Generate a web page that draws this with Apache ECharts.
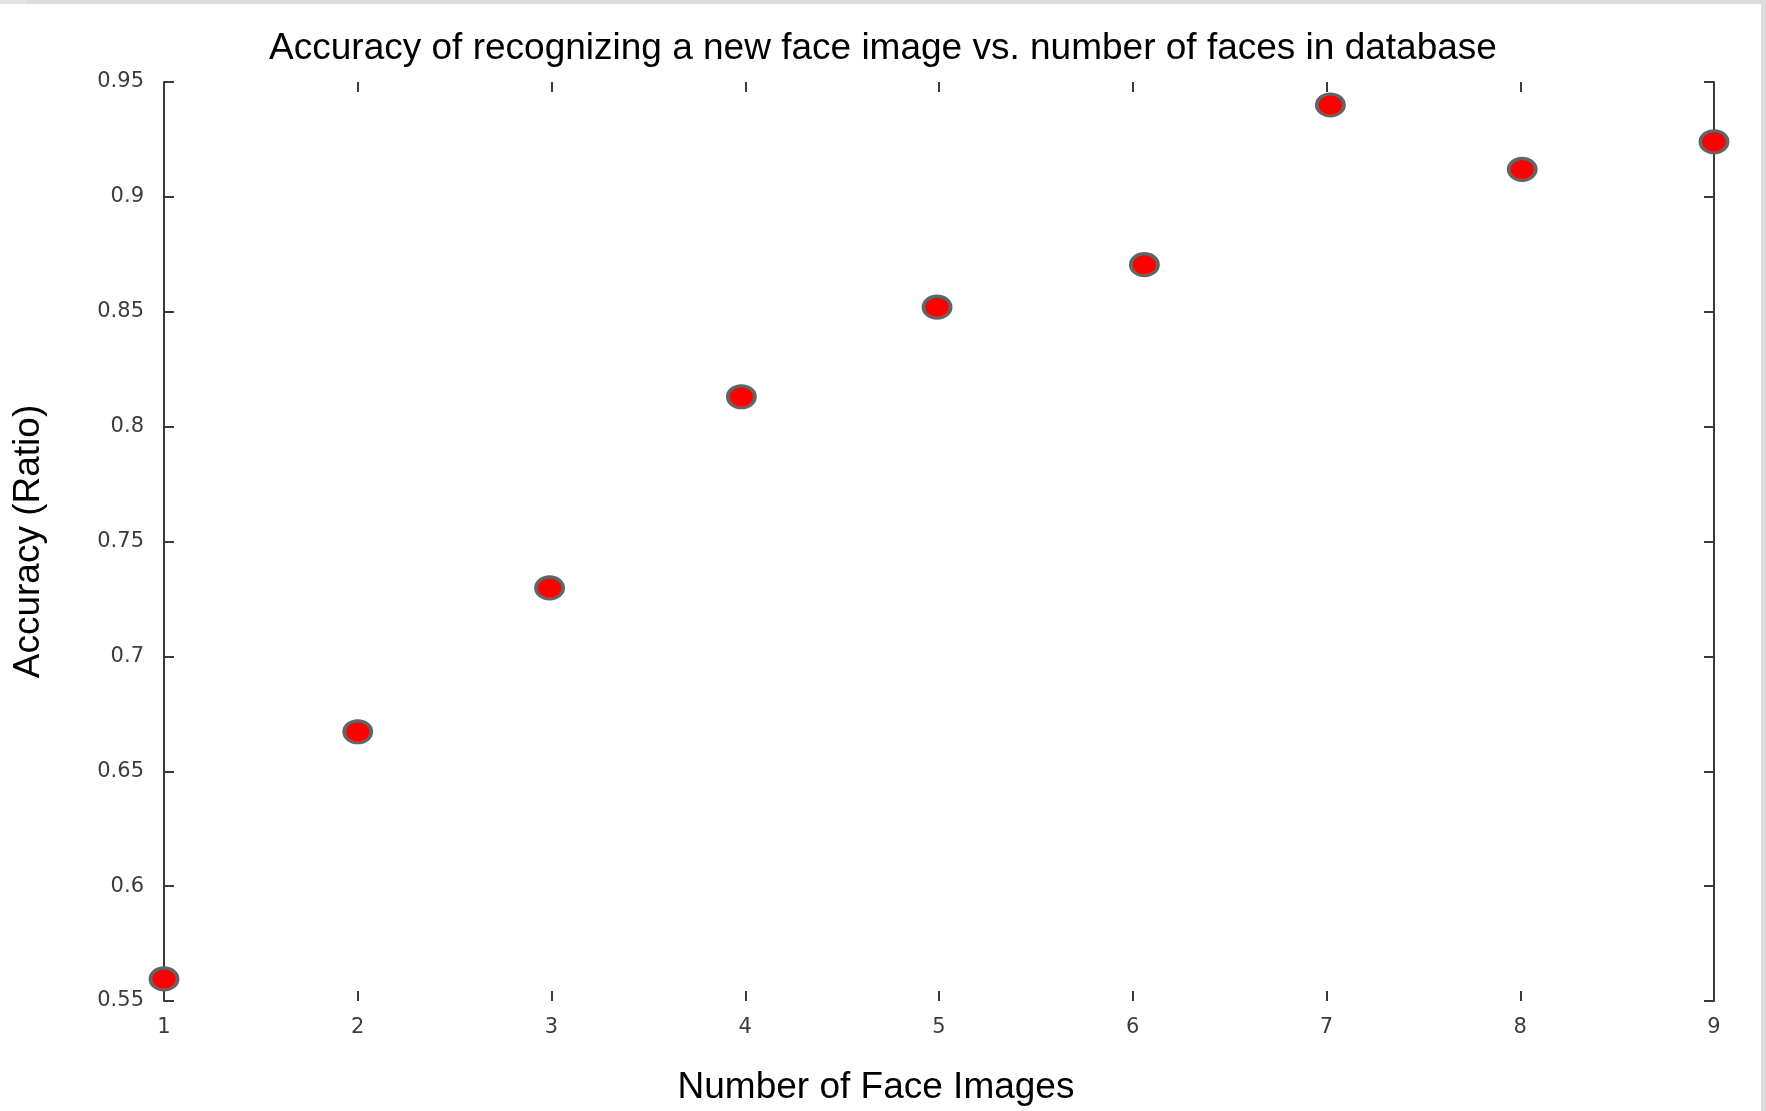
<!DOCTYPE html>
<html>
<head>
<meta charset="utf-8">
<script src="https://cdn.jsdelivr.net/npm/echarts@6/dist/echarts.min.js"></script>
<style>
html,body{margin:0;padding:0;background:#fff;}
#chart{width:1766px;height:1111px;}
</style>
</head>
<body>
<div id="chart"></div>
<script>
// Data
var faceCounts = [1, 2, 2.99, 3.98, 4.99, 6.06, 7.02, 8.01, 9];
var accuracy   = [0.5596, 0.6672, 0.7298, 0.813, 0.852, 0.8705, 0.940, 0.912, 0.924];
var xTickLabels = ['1','2','3','4','5','6','7','8','9'];
var yTickLabels = ['0.55','0.6','0.65','0.7','0.75','0.8','0.85','0.9','0.95'];

var titleText = 'Accuracy of recognizing a new face image vs. number of faces in database';
var xName = 'Number of Face Images';
var yName = 'Accuracy (Ratio)';

var points = faceCounts.map(function (x, i) { return [x, accuracy[i]]; });

var chart = echarts.init(document.getElementById('chart'), null, {renderer: 'canvas'});

var axisColor = '#3a3a3a';
var labelStyle = {color: '#3c3c3c', fontFamily: 'DejaVu Sans', fontSize: 21};

chart.setOption({
  animation: false,
  backgroundColor: '#ffffff',
  title: {
    text: titleText,
    left: 'center',
    top: 25,
    textStyle: {fontFamily: 'Liberation Sans', fontWeight: 'normal', fontSize: 37, color: '#000'}
  },
  grid: {left: 164, right: 52, top: 82, bottom: 108},
  graphic: [
    {type: 'rect', left: 0, top: 0, shape: {width: 1766, height: 4}, style: {fill: '#dcdcdc'}, silent: true},
    {type: 'rect', left: 0, top: 0, shape: {width: 27, height: 4}, style: {fill: '#e4e4e4'}, silent: true},
    {type: 'rect', right: 0, top: 0, shape: {width: 5, height: 1111}, style: {fill: '#dcdcdc'}, silent: true}
  ],
  xAxis: [
    {
      type: 'value', position: 'bottom', min: 1, max: 9, interval: 1,
      name: xName, nameLocation: 'middle', nameGap: 68,
      nameTextStyle: {fontFamily: 'Liberation Sans', fontSize: 37, color: '#000', padding: [0, 126, 0, 0]},
      axisLine: {show: false},
      axisTick: {show: true, inside: true, length: 10, lineStyle: {color: axisColor, width: 2}},
      axisLabel: Object.assign({margin: 16, formatter: function (v) { return xTickLabels[Math.round(v) - 1]; }}, labelStyle),
      splitLine: {show: false}
    },
    {
      type: 'value', position: 'top', min: 1, max: 9, interval: 1,
      axisLine: {show: false},
      axisTick: {show: true, inside: true, length: 10, lineStyle: {color: axisColor, width: 2}},
      axisLabel: {show: false},
      splitLine: {show: false}
    }
  ],
  yAxis: [
    {
      type: 'value', position: 'left', min: 0.55, max: 0.95, interval: 0.05,
      name: yName, nameLocation: 'middle', nameGap: 117, nameRotate: 90,
      nameTextStyle: {fontFamily: 'Liberation Sans', fontSize: 37, color: '#000'},
      axisLine: {show: true, lineStyle: {color: axisColor, width: 2}},
      axisTick: {show: true, inside: true, length: 10, lineStyle: {color: axisColor, width: 2}},
      axisLabel: Object.assign({margin: 20, formatter: function (v) { return yTickLabels[Math.round((v - 0.55) / 0.05)]; }}, labelStyle),
      splitLine: {show: false}
    },
    {
      type: 'value', position: 'right', min: 0.55, max: 0.95, interval: 0.05,
      axisLine: {show: true, lineStyle: {color: axisColor, width: 2}},
      axisTick: {show: true, inside: true, length: 10, lineStyle: {color: axisColor, width: 2}},
      axisLabel: {show: false},
      splitLine: {show: false}
    }
  ],
  series: [{
    type: 'scatter',
    xAxisIndex: 0, yAxisIndex: 0,
    data: points,
    symbol: 'circle',
    symbolSize: [27, 22],
    clip: false,
    itemStyle: {color: '#ff0000', borderColor: '#646464', borderWidth: 3.5, opacity: 1}
  }]
});
</script>
</body>
</html>
